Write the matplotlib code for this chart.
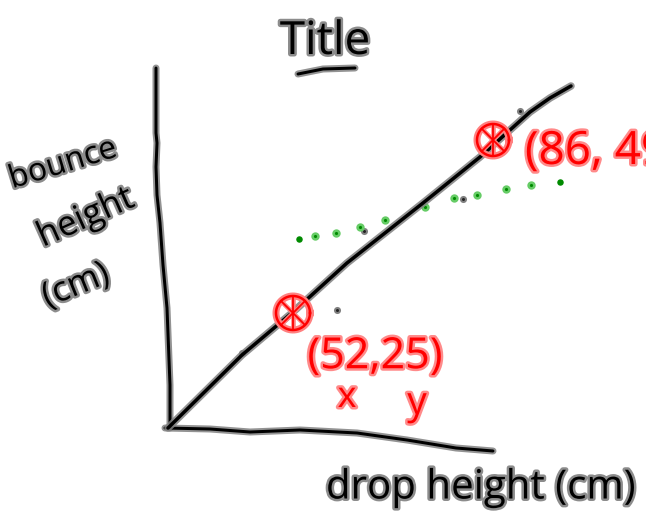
import matplotlib
matplotlib.use('Agg')
import matplotlib.pyplot as plt
import matplotlib.patheffects as pe
import numpy as np

# everything is a sketch on a page, so values are read in page pixels
y_axis_x = [156, 156, 156, 157, 156, 157, 160, 163, 167, 170, 170]
y_axis_y = [68, 100, 133, 143, 167, 195, 223, 265, 308, 385, 428]
x_axis_x = [165, 210, 250, 300, 357, 407, 456, 493]
x_axis_y = [428, 429, 432, 430, 433, 440, 448, 451]
fit_x = [168, 242, 293, 347, 423, 480, 530, 550, 571]
fit_y = [428, 355, 312, 263, 203, 157, 112, 98, 86]
underline_x = [298, 323, 355]
underline_y = [74, 69, 68]

black_x = [242, 337, 364, 463, 520]
black_y = [353, 310, 231, 199, 111]
green_x = [315, 336, 360, 385, 425, 454, 477, 506, 531]
green_y = [236, 233, 227, 220, 207, 198, 195, 189, 185]
green_end_x = [299, 560]
green_end_y = [239, 182]

circle_x = [293, 493]
circle_y = [313, 140]
circle_r = [17, 16]

PX = 0.72  # one pixel in points at dpi 100
RED = '#ff0000'
GREEN = '#008a00'
FONT = 'Open Sans'


def stroke(ax, x, y, color='black', halo='#808080', width=3, halo_width=7):
    ax.plot(x, y, color=halo, lw=halo_width * PX, solid_capstyle='round',
            solid_joinstyle='round', alpha=0.85)
    ax.plot(x, y, color=color, lw=width * PX, solid_capstyle='round',
            solid_joinstyle='round')


def handwrite(ax, x, y, s, size, rotation=0, color='black', halo='#8c8c8c', ha='center'):
    ax.text(x, y, s, fontsize=size, rotation=rotation, color=color, ha=ha,
            va='center', family=FONT, rotation_mode='anchor',
            path_effects=[pe.withStroke(linewidth=5 * PX, foreground=halo)])


def circled_cross(ax, cx, cy, r):
    theta = np.linspace(0, 2 * np.pi, 60)
    xs = cx + r * np.cos(theta)
    ys = cy + r * np.sin(theta)
    ax.plot(xs, ys, color='#ff8080', lw=7 * PX)
    for angle in [np.pi / 2, np.pi / 4, 3 * np.pi / 4]:
        sx = [cx - r * np.cos(angle), cx + r * np.cos(angle)]
        sy = [cy - r * np.sin(angle), cy + r * np.sin(angle)]
        ax.plot(sx, sy, color='#ff8080', lw=4.5 * PX)
    ax.plot(xs, ys, color=RED, lw=2.5 * PX)
    for angle in [np.pi / 2, np.pi / 4, 3 * np.pi / 4]:
        sx = [cx - r * np.cos(angle), cx + r * np.cos(angle)]
        sy = [cy - r * np.sin(angle), cy + r * np.sin(angle)]
        ax.plot(sx, sy, color=RED, lw=1.8 * PX)


def main():
    fig = plt.figure(figsize=(6.46, 5.31), dpi=100)
    ax = fig.add_axes([0, 0, 1, 1])
    ax.set_xlim(0, 646)
    ax.set_ylim(531, 0)
    ax.axis('off')

    stroke(ax, y_axis_x, y_axis_y)
    stroke(ax, x_axis_x, x_axis_y)
    stroke(ax, fit_x, fit_y, width=3.5, halo_width=7.5)
    stroke(ax, underline_x, underline_y)

    ax.scatter(black_x, black_y, s=50 * PX * PX, color='#808080', lw=0)
    ax.scatter(black_x, black_y, s=9 * PX * PX, color='#222222', lw=0)
    ax.scatter(green_x, green_y, s=70 * PX * PX, color='#66cc66', lw=0)
    ax.scatter(green_x, green_y, s=10 * PX * PX, color=GREEN, lw=0)
    ax.scatter(green_end_x, green_end_y, s=42 * PX * PX, color=GREEN, lw=0)

    for cx, cy, r in zip(circle_x, circle_y, circle_r):
        circled_cross(ax, cx, cy, r)

    handwrite(ax, 325, 42, 'Title', 33)
    handwrite(ax, 63, 164, 'bounce', 23, rotation=17)
    handwrite(ax, 86, 218, 'height', 25, rotation=24)
    handwrite(ax, 76, 286, '(cm)', 25, rotation=22)
    handwrite(ax, 481, 488, 'drop height (cm)', 29)

    handwrite(ax, 375, 357, '(52,25)', 31, color=RED, halo='#ff8a8a')
    handwrite(ax, 347, 398, 'x', 26, color=RED, halo='#ff8a8a')
    handwrite(ax, 417, 404, 'y', 28, color=RED, halo='#ff8a8a')
    handwrite(ax, 525, 152, '(86, 49)', 33, color=RED, halo='#ff8a8a', ha='left')

    fig.savefig('out.png', dpi=100)
    plt.close(fig)


if __name__ == "__main__":
    main()
